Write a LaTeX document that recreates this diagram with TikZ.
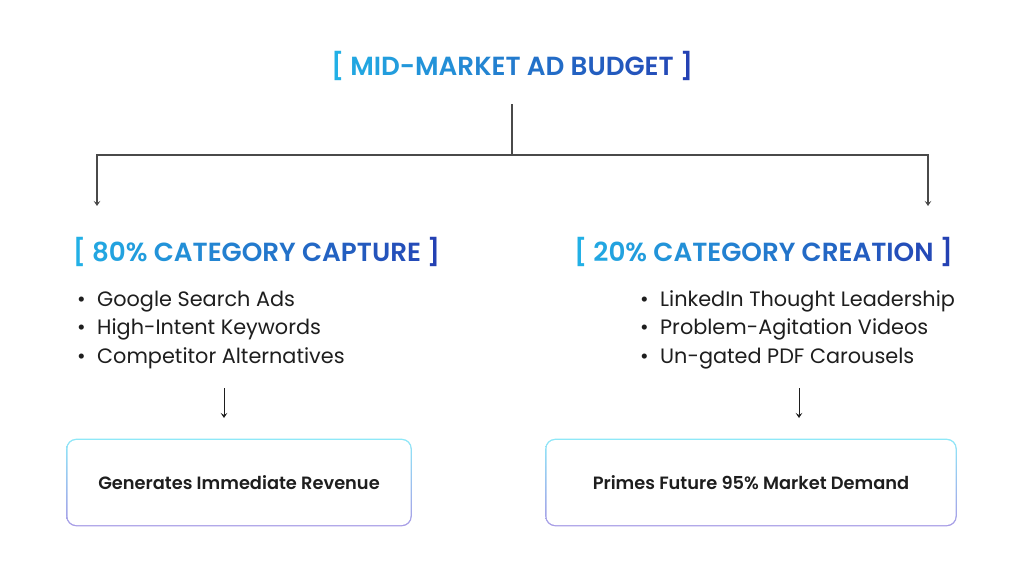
\documentclass[tikz,border=0pt]{standalone}
\usepackage{fontspec}
\setmainfont{Poppins}
\newfontfamily\popsb{Poppins SemiBold}
\usetikzlibrary{arrows.meta,backgrounds}
\definecolor{gA}{HTML}{22B0E6}
\definecolor{gB}{HTML}{2441B3}
\definecolor{ink}{HTML}{1E1E1E}
\definecolor{wire}{HTML}{4A4A4A}
\definecolor{bTop}{HTML}{8EE8F8}
\definecolor{bBot}{HTML}{A89CE6}
\ExplSyntaxOn
\NewDocumentCommand\gradtext{ m }
 {
  \int_set:Nn \l_tmpa_int { \tl_count:n {#1} }
  \int_zero:N \l_tmpb_int
  \tl_map_inline:nn {#1}
   {
    \int_incr:N \l_tmpb_int
    \textcolor{gB!\int_eval:n{100*(\l_tmpb_int-1)/(\l_tmpa_int-1)}!gA}{##1}
   }
 }
\ExplSyntaxOff
\begin{document}
\begin{tikzpicture}[x=1pt,y=-1pt,
  head/.style={anchor=base, inner sep=0pt, font=\popsb\fontsize{26.2}{30}\selectfont},
  item/.style={anchor=base west, inner sep=0pt, text=ink, font=\fontsize{20.8}{24}\selectfont},
  outcome/.style={fill=white, rounded corners=9pt, inner sep=0pt, minimum height=85pt, text=ink, font=\popsb\fontsize{17.8}{21}\selectfont},
  tree/.style={draw=wire, line width=1.2pt},
  treearrow/.style={tree, -{Stealth[length=5pt,width=6.5pt,inset=2pt]}},
  smallarrow/.style={draw=ink, line width=1pt, -{Stealth[length=5pt,width=6.5pt,inset=2pt]}}
]
\useasboundingbox (0,0) rectangle (1024,578);

% title and headings
\node[head] (t) at (512,75) {\gradtext{[~MID-MARKET~AD~BUDGET~]}};
\node[head] (hl) at (256.5,261) {\gradtext{[~80\%~CATEGORY~CAPTURE~]}};
\node[head] (hr) at (763.5,261) {\gradtext{[~20\%~CATEGORY~CREATION~]}};

% tree connectors
\coordinate (top) at (512,104);
\coordinate (jn) at (512,155);
\coordinate (al) at (97,206);
\coordinate (ar) at (928,206);
\draw[tree] (top) -- (jn);
\draw[treearrow] (jn) -| (al);
\draw[treearrow] (jn) -| (ar);

% lists
\node[item] (l1) at (77,306) {\makebox[20pt][l]{•}Google Search Ads};
\node[item] (l2) at (77,334.5) {\makebox[20pt][l]{•}High-Intent Keywords};
\node[item] (l3) at (77,363) {\makebox[20pt][l]{•}Competitor Alternatives};
\node[item] (r1) at (640,306) {\makebox[20pt][l]{•}LinkedIn Thought Leadership};
\node[item] (r2) at (640,334.5) {\makebox[20pt][l]{•}Problem-Agitation Videos};
\node[item] (r3) at (640,363) {\makebox[20pt][l]{•}Un-gated PDF Carousels};

% small arrows
\coordinate (sl1) at (224,388);
\coordinate (sl2) at (224,418);
\coordinate (sr1) at (799,388);
\coordinate (sr2) at (799,418);
\draw[smallarrow] (sl1) -- (sl2);
\draw[smallarrow] (sr1) -- (sr2);

% outcome boxes
\node[outcome, minimum width=343pt] (bl) at (239,482.5) {Generates Immediate Revenue};
\node[outcome, minimum width=409pt] (br) at (751,482.5) {Primes Future 95\% Market Demand};

\begin{pgfonlayer}{background}
  \fill[white] (0,0) rectangle (1024,578);
  \shade[top color=bTop, bottom color=bBot, rounded corners=10pt]
    ([shift={(-1.1,-1.1)}]bl.north west) rectangle ([shift={(1.1,1.1)}]bl.south east);
  \shade[top color=bTop, bottom color=bBot, rounded corners=10pt]
    ([shift={(-1.1,-1.1)}]br.north west) rectangle ([shift={(1.1,1.1)}]br.south east);
\end{pgfonlayer}
\end{tikzpicture}
\end{document}
